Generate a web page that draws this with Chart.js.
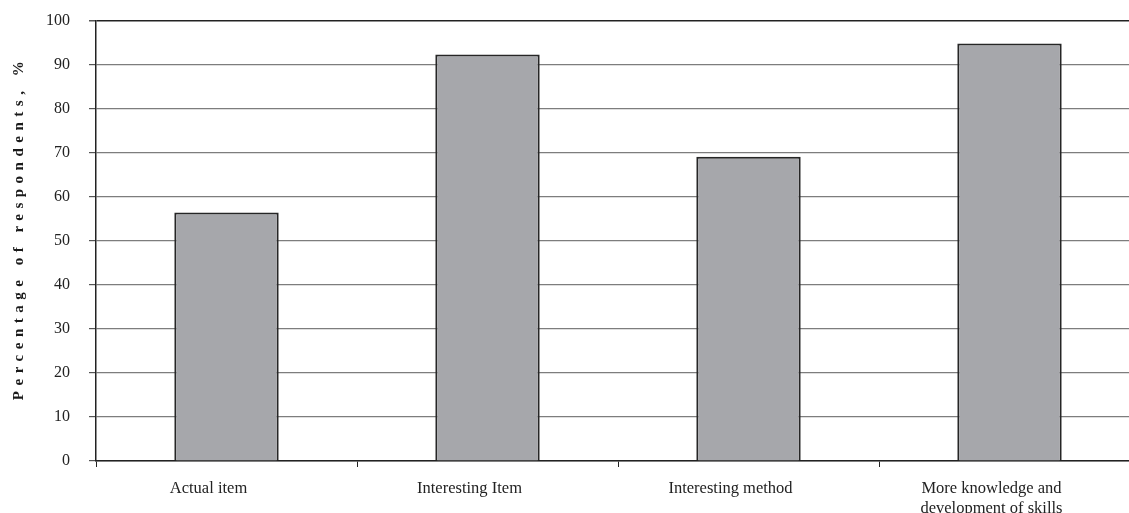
<!DOCTYPE html>
<html>
<head>
<meta charset="utf-8">
<script src="https://cdn.jsdelivr.net/npm/chart.js@4"></script>
<style>
  html, body { margin: 0; padding: 0; background: #fff; overflow: hidden; }
  #wrap { position: relative; width: 1140px; height: 521px; margin-top: -8px; }
</style>
</head>
<body>
<div id="wrap"><canvas id="myChart"></canvas></div>
<script>
var categories = ["Actual item", "Interesting Item", "Interesting method", ["More knowledge and", "development of skills"]];
var respondents = [56.4, 92.3, 69.1, 94.8];
var yTicks = [0, 10, 20, 30, 40, 50, 60, 70, 80, 90, 100];
var yTitle = "Percentage of respondents, %";

// y title is drawn by hand because it needs letter spacing
var spacedTitle = {
  id: 'spacedTitle',
  afterDraw: function(chart) {
    var ctx = chart.ctx;
    ctx.save();
    ctx.translate(19, 236);
    ctx.rotate(-Math.PI / 2);
    ctx.font = 'bold 15px "Liberation Serif"';
    ctx.letterSpacing = '5.5px';
    ctx.fillStyle = '#1a1a1a';
    ctx.textAlign = 'center';
    ctx.textBaseline = 'middle';
    ctx.fillText(yTitle, 0, 0);
    ctx.restore();
  }
};

var ctx = document.getElementById('myChart').getContext('2d');
var chart = new Chart(ctx, {
  type: 'bar',
  data: {
    labels: categories,
    datasets: [
      {
        label: yTitle,
        data: respondents,
        backgroundColor: '#a6a7ab',
        borderColor: '#262626',
        borderWidth: 2,
        barPercentage: 0.4,
        categoryPercentage: 1
      }
    ]
  },
  options: {
    responsive: true,
    maintainAspectRatio: false,
    animation: false,
    layout: { padding: { top: 14, right: 0, left: 0, bottom: 0 } },
    plugins: {
      legend: { display: false },
      tooltip: { enabled: false }
    },
    scales: {
      x: {
        grid: { offset: true, drawOnChartArea: false, tickLength: 6, color: '#222', lineWidth: 1 },
        border: { color: '#222', width: 1.5 },
        ticks: {
          color: '#222',
          padding: 12,
          labelOffset: -18,
          maxRotation: 0,
          font: { family: '"Liberation Serif"', size: 16.5 }
        },
        afterFit: function(scale) { scale.height = 52; }
      },
      y: {
        min: 0,
        max: 100,
        afterBuildTicks: function(scale) {
          scale.ticks = yTicks.map(function(v) { return { value: v }; });
        },
        grid: {
          color: function(c) { return c.tick && c.tick.value === 100 ? '#222' : '#7d7d7d'; },
          lineWidth: function(c) { return c.tick && c.tick.value === 100 ? 1.5 : 1.2; },
          tickLength: 7,
          tickColor: '#555'
        },
        border: { color: '#222', width: 1.5 },
        ticks: {
          color: '#222',
          padding: 19,
          font: { family: '"Liberation Serif"', size: 16 }
        },
        afterFit: function(scale) { scale.width = 96; }
      }
    }
  },
  plugins: [spacedTitle]
});
</script>
</body>
</html>
